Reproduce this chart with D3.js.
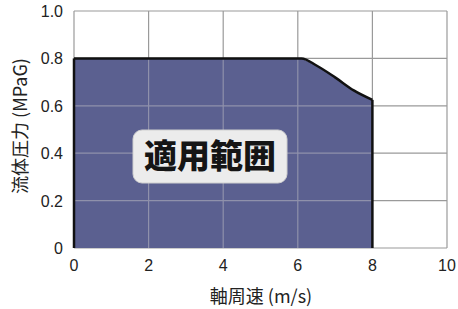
<!DOCTYPE html>
<html>
<head>
<meta charset="utf-8">
<script src="https://cdn.jsdelivr.net/npm/d3@7"></script>
<style>
body { margin: 0; background: #fff; }
text { font-family: "Noto Sans CJK JP", "Noto Sans", sans-serif; }
text.tick { font-family: "Liberation Sans", Arial, sans-serif; }
</style>
</head>
<body>
<div class="container"></div>
<script>
// allowable range: shaft speed (m/s) vs fluid pressure (MPaG)
var speeds    = [0, 6.1, 6.5, 7.0, 7.5, 8.0];
var pressures = [0.8, 0.8, 0.77, 0.72, 0.665, 0.625];
var xTicks = [0, 2, 4, 6, 8, 10];
var yTicks = [0, 0.2, 0.4, 0.6, 0.8, 1.0];
var yTickLabels = ["0", "0.2", "0.4", "0.6", "0.8", "1.0"];
var areaLabel = "適用範囲";

var W = 458, H = 309;
var svg = d3.select(".container").append("svg")
	.attr("width", W)
	.attr("height", H);

var x = d3.scaleLinear().domain([0, 10]).range([74, 447]);
var y = d3.scaleLinear().domain([0, 1]).range([248, 11]);

// grid
svg.selectAll(".vgrid").data(xTicks).enter().append("line")
	.attr("x1", function(d) { return x(d); })
	.attr("x2", function(d) { return x(d); })
	.attr("y1", y(0)).attr("y2", y(1))
	.style("stroke", "#9a9a9a").style("stroke-width", 1.2);
svg.selectAll(".hgrid").data(yTicks).enter().append("line")
	.attr("x1", x(0)).attr("x2", x(10))
	.attr("y1", function(d) { return y(d); })
	.attr("y2", function(d) { return y(d); })
	.style("stroke", "#9a9a9a").style("stroke-width", 1.2);

// filled region
var pts = [[0, 0]];
speeds.forEach(function(s, i) { pts.push([s, pressures[i]]); });
pts.push([8, 0]);

svg.append("path")
	.attr("d", d3.area()
		.x(function(d) { return x(d[0]); })
		.y0(y(0))
		.y1(function(d) { return y(d[1]); })
		.curve(d3.curveLinear)(pts))
	.style("fill", "#5b6090");

// grid lines visible faintly through the fill
svg.selectAll(".vgridIn").data(xTicks.filter(function(d) { return d > 0 && d < 8; })).enter().append("line")
	.attr("x1", function(d) { return x(d); })
	.attr("x2", function(d) { return x(d); })
	.attr("y1", y(0)).attr("y2", y(0.8))
	.style("stroke", "#8f91ab").style("stroke-width", 1.2);
svg.selectAll(".hgridIn").data([0.2, 0.4, 0.6]).enter().append("line")
	.attr("x1", x(0)).attr("x2", x(8))
	.attr("y1", function(d) { return y(d); })
	.attr("y2", function(d) { return y(d); })
	.style("stroke", "#8f91ab").style("stroke-width", 1.2);

// boundary
svg.append("path")
	.attr("d", d3.line()
		.x(function(d) { return x(d[0]); })
		.y(function(d) { return y(d[1]); })
		.curve(d3.curveMonotoneX)(pts.slice(1, pts.length - 1)))
	.style("fill", "none").style("stroke", "#111").style("stroke-width", 2.5);
svg.append("line")
	.attr("x1", x(0)).attr("x2", x(0)).attr("y1", y(0)).attr("y2", y(0.8))
	.style("stroke", "#111").style("stroke-width", 2.5);
svg.append("line")
	.attr("x1", x(8)).attr("x2", x(8)).attr("y1", y(0)).attr("y2", y(pressures[pressures.length - 1]))
	.style("stroke", "#111").style("stroke-width", 2.5);

// tick labels
svg.selectAll(".xt").data(xTicks).enter().append("text")
	.attr("class", "tick")
	.attr("x", function(d) { return x(d); })
	.attr("y", 271)
	.attr("text-anchor", "middle")
	.style("font-size", "16px").style("fill", "#222")
	.text(function(d) { return d; });
svg.selectAll(".yt").data(yTicks).enter().append("text")
	.attr("class", "tick")
	.attr("x", 63)
	.attr("y", function(d) { return y(d) + 6; })
	.attr("text-anchor", "end")
	.style("font-size", "16px").style("fill", "#222")
	.text(function(d, i) { return yTickLabels[i]; });

// axis titles
svg.append("text")
	.attr("x", 261).attr("y", 303)
	.attr("text-anchor", "middle")
	.style("font-size", "18px").style("fill", "#222")
	.text("軸周速 (m/s)");
svg.append("text")
	.attr("transform", "translate(27,126) rotate(-90)")
	.attr("text-anchor", "middle")
	.style("font-size", "18px").style("fill", "#222")
	.text("流体圧力 (MPaG)");

// label box
svg.append("rect")
	.attr("x", 133).attr("y", 130).attr("width", 154).attr("height", 53)
	.attr("rx", 9)
	.style("fill", "#ececec").style("stroke", "#cfcfcf").style("stroke-width", 1);
svg.append("text")
	.attr("x", 210).attr("y", 168)
	.attr("text-anchor", "middle")
	.style("font-size", "33px").style("font-weight", "900").style("fill", "#151515")
	.text(areaLabel);
</script>
</body>
</html>
